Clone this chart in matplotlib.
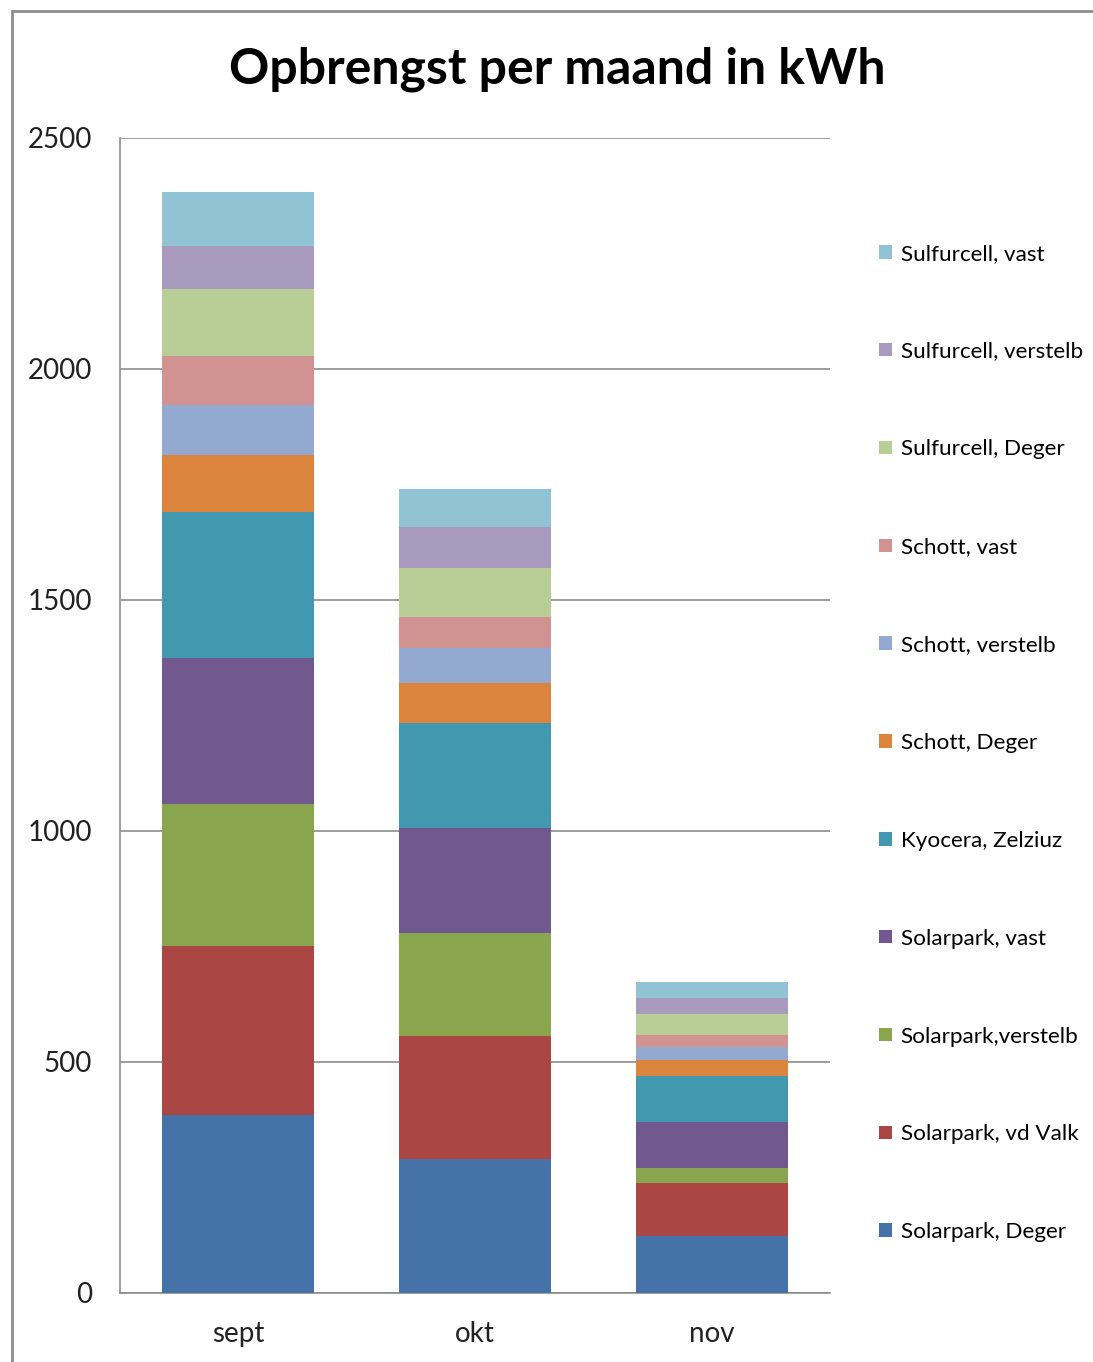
import numpy as np
import matplotlib.pyplot as plt
from matplotlib.patches import Rectangle

plt.rcParams['font.family'] = ['Lato', 'DejaVu Sans']

months = ['sept', 'okt', 'nov']
series = ['Solarpark, Deger', 'Solarpark, vd Valk', 'Solarpark,verstelb',
          'Solarpark, vast', 'Kyocera, Zelziuz', 'Schott, Deger',
          'Schott, verstelb', 'Schott, vast', 'Sulfurcell, Deger',
          'Sulfurcell, verstelb', 'Sulfurcell, vast']
values = [
    [385, 290, 123],   # Solarpark, Deger
    [366, 266, 116],   # Solarpark, vd Valk
    [307, 223, 31],    # Solarpark,verstelb
    [316, 227, 101],   # Solarpark, vast
    [316, 228, 99],    # Kyocera, Zelziuz
    [124, 86, 34],     # Schott, Deger
    [108, 76, 29],     # Schott, verstelb
    [106, 67, 25],     # Schott, vast
    [145, 106, 45],    # Sulfurcell, Deger
    [93, 89, 35],      # Sulfurcell, verstelb
    [117, 82, 34],     # Sulfurcell, vast
]
colrs = ['#4572A7', '#AA4643', '#89A54E', '#71588F', '#4198AF', '#DB843D',
         '#93A9CF', '#D19392', '#B9CD96', '#A99BBD', '#91C3D5']

fig = plt.figure(figsize=(10.93, 13.62), dpi=100)
ax = fig.add_axes([0.1098, 0.0507, 0.6496, 0.848])

x = np.arange(len(months))
bottom = np.zeros(len(months))
handles = []
for name, vals, c in zip(series, values, colrs):
    h = ax.bar(x, vals, 0.642, bottom=bottom, color=c, label=name, zorder=3)
    handles.append(h)
    bottom += np.array(vals)

ax.set_xlim(-0.5, 2.5)
ax.set_ylim(0, 2500)
ax.set_yticks([0, 500, 1000, 1500, 2000, 2500])
ax.set_xticks(x)
ax.set_xticklabels(months)
ax.grid(axis='y', color='#8c8c8c', linewidth=1.2, zorder=0)
for s in ['top', 'right']:
    ax.spines[s].set_visible(False)
for s in ['left', 'bottom']:
    ax.spines[s].set_color('#8c8c8c')
    ax.spines[s].set_linewidth(1.2)
ax.tick_params(axis='y', length=0, labelsize=20, pad=20, colors='#222222')
ax.tick_params(axis='x', length=0, labelsize=20, pad=20, colors='#222222')

fig.text(0.51, 0.949, 'Opbrengst per maand in kWh', ha='center', va='center',
         fontsize=36, fontweight='bold')

# legend lists the top segment first, like the stacking order
leg = fig.legend(handles[::-1], series[::-1], loc='center left',
                 bbox_to_anchor=(0.786, 0.4545), frameon=False, fontsize=16.2,
                 handlelength=0.55, handleheight=0.55, handletextpad=0.4,
                 labelspacing=3.46)

fig.patches.append(Rectangle((0.011, -0.05), 1.0, 1.042, transform=fig.transFigure,
                             fill=False, edgecolor='#8c8c8c', linewidth=2))

fig.savefig('out.png', dpi=100)
